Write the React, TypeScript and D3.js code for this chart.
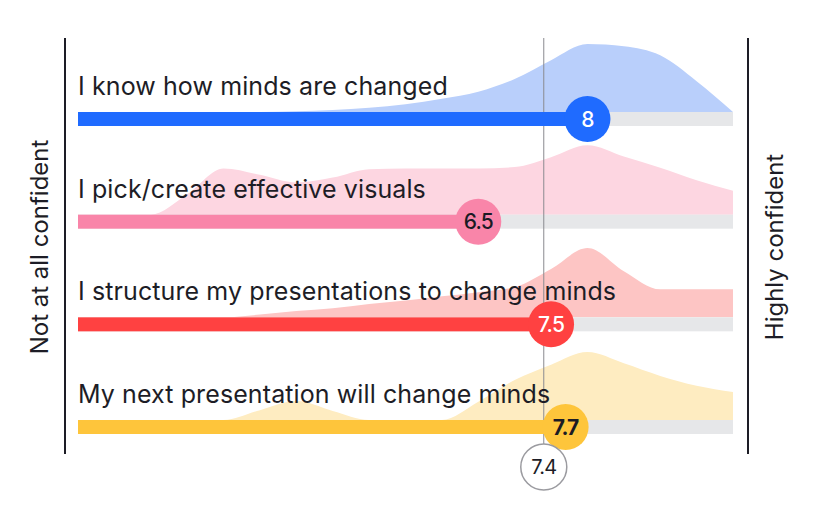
import * as d3 from 'd3';

// survey statements, scored 1 (not at all) .. 10 (highly confident)
const statements = [
  'I know how minds are changed',
  'I pick/create effective visuals',
  'I structure my presentations to change minds',
  'My next presentation will change minds',
];
const averages = [8, 6.5, 7.5, 7.7];
const overall = 7.4;

// density sample points (score) and relative density per statement
const scorePoints = [1, 1.5, 2, 2.5, 3, 3.5, 4, 4.5, 5, 5.5, 6, 6.5, 7, 7.5, 8, 8.5, 9, 9.5, 10];
const densityKnow = [0, 0, 0, 0, 0, 0, 0.01, 0.03, 0.06, 0.11, 0.19, 0.29, 0.47, 0.74, 0.97, 0.94, 0.81, 0.44, 0];
const densityVisuals = [0, 0, 0, 0.29, 0.66, 0.57, 0.46, 0.53, 0.65, 0.66, 0.66, 0.66, 0.68, 0.82, 0.99, 0.83, 0.67, 0.49, 0.34];
const densityStructure = [0, 0, 0, 0, 0, 0.04, 0.09, 0.13, 0.19, 0.24, 0.3, 0.36, 0.43, 0.69, 0.99, 0.66, 0.4, 0.4, 0.4];
const densityNext = [0, 0, 0, 0, 0, 0.14, 0.27, 0.13, 0, 0, 0, 0.26, 0.57, 0.79, 0.97, 0.81, 0.63, 0.49, 0.4];
const densities = [densityKnow, densityVisuals, densityStructure, densityNext];

const barColors = ['#1f6bff', '#f985a9', '#ff4141', '#fec53b'];
const areaColors = ['#b9cffb', '#fdd6e1', '#fdc5c4', '#feecc1'];
const valueTextColors = ['#ffffff', '#1b1b24', '#ffffff', '#1b1b24'];

const W = 816;
const H = 520;
const FONT = 'Inter, "Noto Sans", sans-serif';
const INK = '#1d1d26';

export default function App() {
  const x = d3.scaleLinear().domain([1, 10]).range([78, 733]);
  const row = d3.scalePoint<string>().domain(statements).range([119, 427]);
  const dens = d3.scaleLinear().domain([0, 1]).range([0, 70]);
  const barH = 14;
  const r = 23;

  const area = (vals: number[], base: number) =>
    d3.area<number>()
      .x((_, i) => x(scorePoints[i]))
      .y0(base)
      .y1((d) => base - dens(d))
      .curve(d3.curveMonotoneX)(vals) ?? '';

  return (
    <svg width={W} height={H} style={{ position: 'absolute', left: 0, top: 0, fontFamily: FONT }}>
      <rect width={W} height={H} fill="#fff" />
      {/* density areas */}
      {statements.map((s, i) => {
        const cy = row(s)!;
        return <path key={'a' + i} d={area(densities[i], cy - barH / 2)} fill={areaColors[i]} />;
      })}
      {/* grey tracks */}
      {statements.map((s, i) => (
        <rect key={'t' + i} x={x(1)} y={row(s)! - barH / 2} width={x(10) - x(1)} height={barH} fill="#e6e7e9" />
      ))}
      {/* side axis lines */}
      <line x1={65} x2={65} y1={38} y2={454} stroke={INK} strokeWidth={2} />
      <line x1={748} x2={748} y1={38} y2={454} stroke={INK} strokeWidth={2} />
      {/* overall average line */}
      <line x1={x(overall)} x2={x(overall)} y1={38} y2={445} stroke="#8a8a8f" strokeWidth={1} />
      {/* labels */}
      {statements.map((s, i) => (
        <text key={'l' + i} x={x(1)} y={row(s)! - 24} fontSize={25} fill={INK} letterSpacing={0.1}>{s}</text>
      ))}
      {/* bars and average markers */}
      {statements.map((s, i) => {
        const cy = row(s)!;
        return (
          <g key={'b' + i}>
            <rect x={x(1)} y={cy - barH / 2} width={x(averages[i]) - x(1)} height={barH} fill={barColors[i]} />
            <circle cx={x(averages[i])} cy={cy} r={r} fill={barColors[i]} />
            <text x={x(averages[i])} y={cy + 7.5} textAnchor="middle" fontSize={21} fontWeight={i === 3 ? 700 : 500}
              fill={valueTextColors[i]} letterSpacing={-0.8}>{averages[i]}</text>
          </g>
        );
      })}
      {/* overall average marker */}
      <circle cx={x(overall)} cy={467} r={23} fill="#fff" stroke="#9b9ba0" strokeWidth={1.5} />
      <text x={x(overall)} y={474} textAnchor="middle" fontSize={20} fill={INK} letterSpacing={-0.8}>{overall}</text>
      {/* side captions */}
      <text transform="translate(48,247) rotate(-90)" textAnchor="middle" fontSize={24} fill={INK}>Not at all confident</text>
      <text transform="translate(783,247) rotate(-90)" textAnchor="middle" fontSize={24} fill={INK}>Highly confident</text>
    </svg>
  );
}
